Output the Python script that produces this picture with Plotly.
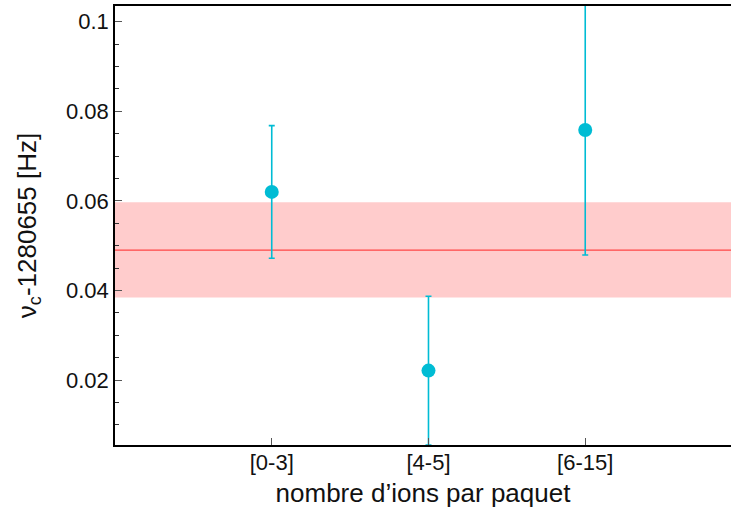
import plotly.graph_objects as go

categories = ["[0-3]", "[4-5]", "[6-15]"]
x_pos = [1, 2, 3]
values = [0.0620, 0.0221, 0.0758]
errors = [0.0148, 0.0166, 0.0279]
mean_value = 0.0490
band_low = 0.0384
band_high = 0.0597
y_ticks = [0.02, 0.04, 0.06, 0.08, 0.1]
y_tick_labels = ["0.02", "0.04", "0.06", "0.08", "0.1"]

cyan = "rgb(0,188,212)"
font = "Liberation Sans, Arial, sans-serif"

fig = go.Figure()

fig.add_shape(type="rect", xref="paper", yref="y", x0=0, x1=1,
              y0=band_low, y1=band_high, fillcolor="rgb(255,204,204)",
              line=dict(width=0), layer="below")
fig.add_shape(type="line", xref="paper", yref="y", x0=0, x1=1,
              y0=mean_value, y1=mean_value,
              line=dict(color="rgb(255,70,70)", width=1.3), layer="below")

fig.add_trace(go.Scatter(
    x=x_pos, y=values, mode="markers",
    marker=dict(color=cyan, size=14),
    error_y=dict(type="data", array=errors, visible=True,
                 color=cyan, thickness=1.6, width=3),
    showlegend=False, cliponaxis=True,
))

fig.update_layout(
    width=731, height=514,
    margin=dict(l=115, r=0, t=6, b=69),
    paper_bgcolor="white", plot_bgcolor="white",
    font=dict(family=font, size=22, color="#111"),
    xaxis=dict(
        range=[0, 3.93], tickmode="array", tickvals=x_pos, ticktext=categories,
        ticks="inside", ticklen=7, tickcolor="#555", tickwidth=1,
        ticklabelstandoff=-3,
        showline=True, linecolor="black", linewidth=1.5, mirror=True,
        showgrid=False, zeroline=False,
        title=dict(text="nombre d’ions par paquet", standoff=10,
                   font=dict(size=26)),
        tickfont=dict(size=22),
    ),
    yaxis=dict(
        range=[0.00549, 0.1035], tickmode="array", tickvals=y_ticks,
        ticktext=y_tick_labels,
        ticks="inside", ticklen=7, tickcolor="#555", tickwidth=1,
        minor=dict(dtick=0.005, ticks="inside", ticklen=4, tickcolor="#333",
                   showgrid=False),
        showline=True, linecolor="black", linewidth=1.5, mirror=False,
        showgrid=False, zeroline=False,
        title=dict(text="ν<sub>c</sub>-1280655 [Hz]", standoff=22,
                   font=dict(size=26)),
        tickfont=dict(size=22),
    ),
)

fig.write_html("out.html", config={"responsive": False, "displayModeBar": False})

with open("out.html", "r", encoding="utf-8") as f:
    html = f.read()
html = html.replace(
    "<body>",
    "<style>html,body{margin:0;padding:0;overflow:hidden;}</style><body>", 1)
with open("out.html", "w", encoding="utf-8") as f:
    f.write(html)
